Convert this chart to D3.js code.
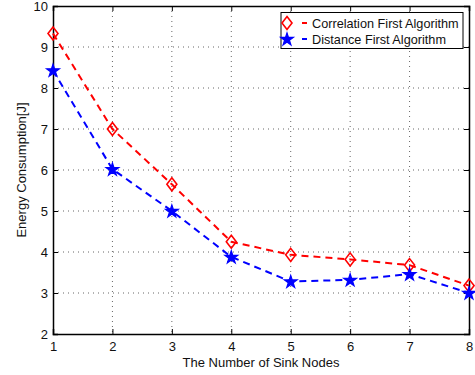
<!DOCTYPE html>
<html>
<head>
<meta charset="utf-8">
<script src="https://cdn.jsdelivr.net/npm/d3@7"></script>
<style>
  body { margin: 0; background: #fff; }
  svg text { font-family: "Liberation Sans", Arial, sans-serif; }
</style>
</head>
<body>
<div id="chart"></div>
<script>
const sinkNodes = [1, 2, 3, 4, 5, 6, 7, 8];
const correlationFirst = [9.33, 7.0, 5.65, 4.25, 3.93, 3.82, 3.68, 3.18];
const distanceFirst = [8.43, 6.02, 5.0, 3.88, 3.28, 3.32, 3.46, 3.0];
const xTicks = [1, 2, 3, 4, 5, 6, 7, 8];
const yTicks = [2, 3, 4, 5, 6, 7, 8, 9, 10];
const seriesNames = ["Correlation First Algorithm", "Distance First Algorithm"];

const width = 475;
const height = 375;
const margin = { top: 6, right: 6, bottom: 41, left: 53 };
const w = width - margin.left - margin.right;
const h = height - margin.top - margin.bottom;

const svg = d3.select("#chart")
    .append("svg")
    .attr("width", width)
    .attr("height", height);

const g = svg.append("g")
    .attr("transform", `translate(${margin.left},${margin.top})`);

const x = d3.scaleLinear().domain([1, 8]).range([0, w]);
const y = d3.scaleLinear().domain([2, 10]).range([h, 0]);

// grid
g.append("g").selectAll("line")
    .data(xTicks.slice(1, -1))
    .enter().append("line")
    .attr("x1", d => x(d)).attr("x2", d => x(d))
    .attr("y1", 0).attr("y2", h)
    .attr("stroke", "#666")
    .attr("stroke-width", 1)
    .attr("stroke-dasharray", "1,4");

g.append("g").selectAll("line")
    .data(yTicks.slice(1, -1))
    .enter().append("line")
    .attr("x1", 0).attr("x2", w)
    .attr("y1", d => y(d)).attr("y2", d => y(d))
    .attr("stroke", "#666")
    .attr("stroke-width", 1)
    .attr("stroke-dasharray", "1,4");

// axes (ticks inside, box on)
const tickSize = 5;
const bottomAxis = g.append("g")
    .attr("transform", `translate(0,${h})`)
    .call(d3.axisBottom(x).tickValues(xTicks).tickSize(-tickSize).tickPadding(8).tickFormat(d3.format("d")));
const leftAxis = g.append("g")
    .call(d3.axisLeft(y).tickValues(yTicks).tickSize(-tickSize).tickPadding(5).tickFormat(d3.format("d")));
const topAxis = g.append("g")
    .call(d3.axisTop(x).tickValues(xTicks).tickSize(-tickSize).tickFormat(""));
const rightAxis = g.append("g")
    .attr("transform", `translate(${w},0)`)
    .call(d3.axisRight(y).tickValues(yTicks).tickSize(-tickSize).tickFormat(""));

[bottomAxis, leftAxis, topAxis, rightAxis].forEach(a => {
    a.select(".domain").attr("stroke", "#000").attr("stroke-width", 1.5);
    a.selectAll(".tick line").attr("stroke", "#000");
    a.selectAll(".tick text").attr("font-size", 13).attr("fill", "#111");
});

// axis titles
svg.append("text")
    .attr("x", margin.left + w / 2)
    .attr("y", 367)
    .attr("text-anchor", "middle")
    .attr("font-size", 13)
    .attr("fill", "#111")
    .text("The Number of Sink Nodes");

svg.append("text")
    .attr("transform", `translate(26,${margin.top + h / 2}) rotate(-90)`)
    .attr("text-anchor", "middle")
    .attr("font-size", 13)
    .attr("fill", "#111")
    .text("Energy Consumption[J]");

// lines
const line = d3.line()
    .x((d, i) => x(sinkNodes[i]))
    .y(d => y(d));

g.append("path")
    .datum(correlationFirst)
    .attr("d", line)
    .attr("fill", "none")
    .attr("stroke", "#ff0000")
    .attr("stroke-width", 2)
    .attr("stroke-dasharray", "7,5");

g.append("path")
    .datum(distanceFirst)
    .attr("d", line)
    .attr("fill", "none")
    .attr("stroke", "#0000ff")
    .attr("stroke-width", 2)
    .attr("stroke-dasharray", "7,5");

// markers
const diamond = "M0,-6.5L5,0L0,6.5L-5,0Z";
const star = d3.symbol().type(d3.symbolStar).size(50);

g.selectAll(".diamond")
    .data(correlationFirst)
    .enter().append("path")
    .attr("class", "diamond")
    .attr("d", diamond)
    .attr("transform", (d, i) => `translate(${x(sinkNodes[i])},${y(d)})`)
    .attr("fill", "none")
    .attr("stroke", "#ff0000")
    .attr("stroke-width", 1.6);

g.selectAll(".star")
    .data(distanceFirst)
    .enter().append("path")
    .attr("class", "star")
    .attr("d", star)
    .attr("transform", (d, i) => `translate(${x(sinkNodes[i])},${y(d) + 0.5})`)
    .attr("fill", "#0000ff")
    .attr("stroke", "#0000ff")
    .attr("stroke-width", 1.2);

// legend
const legend = svg.append("g").attr("transform", "translate(281,12.5)");
legend.append("rect")
    .attr("width", 182)
    .attr("height", 36)
    .attr("fill", "#fff")
    .attr("stroke", "#000")
    .attr("stroke-width", 1);

const legendColors = ["#ff0000", "#0000ff"];
seriesNames.forEach((name, i) => {
    const ly = 10.5 + i * 16;
    legend.append("line")
        .attr("x1", 2).attr("x2", 26)
        .attr("y1", ly).attr("y2", ly)
        .attr("stroke", legendColors[i])
        .attr("stroke-width", 2)
        .attr("stroke-dasharray", "6,13,7");
    legend.append("path")
        .attr("d", i === 0 ? diamond : star)
        .attr("transform", `translate(6,${ly + (i === 0 ? 0 : 0.5)})`)
        .attr("fill", i === 0 ? "#fff" : "#0000ff")
        .attr("stroke", legendColors[i])
        .attr("stroke-width", i === 0 ? 1.6 : 1.2);
    legend.append("text")
        .attr("x", 31)
        .attr("y", ly + 4.5)
        .attr("font-size", 12.7)
        .attr("fill", "#111")
        .text(name);
});
</script>
</body>
</html>
